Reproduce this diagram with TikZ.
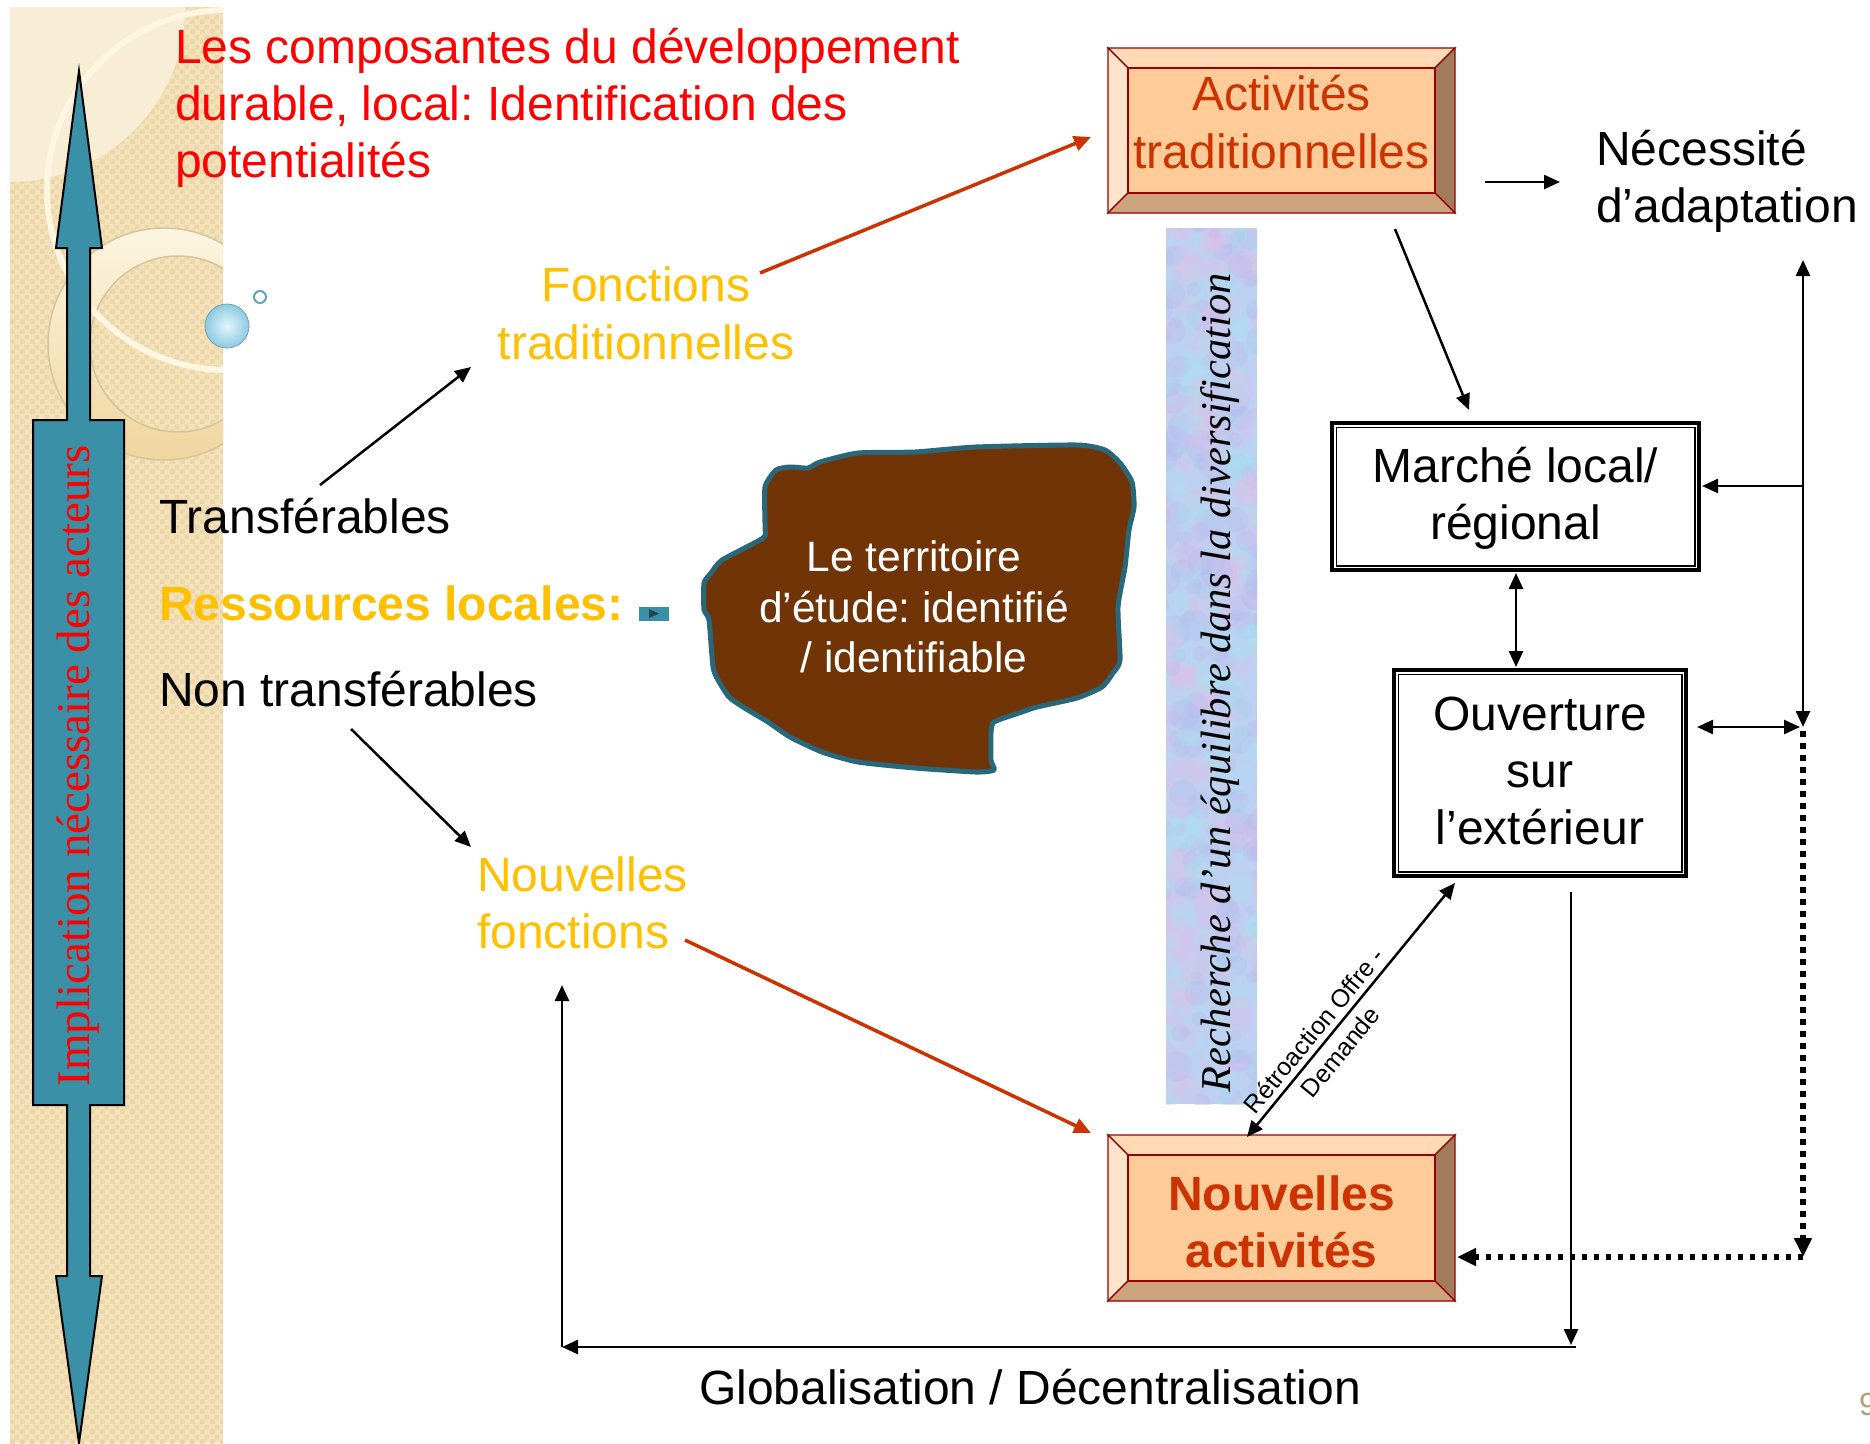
\documentclass[tikz,border=0pt]{standalone}
\usepackage{fontspec}
\setmainfont{Liberation Sans}
\newfontfamily\serifrm{Liberation Serif}
\usetikzlibrary{arrows.meta,patterns.meta,calc}
\frenchspacing
\newcommand\myfs[2]{\fontsize{#1}{#2}\selectfont}
\definecolor{beige}{RGB}{244,226,186}
\definecolor{beigedk}{RGB}{236,214,168}
\definecolor{beigelt}{RGB}{248,238,214}
\definecolor{ringlt}{RGB}{252,245,226}
\definecolor{ringdk}{RGB}{240,214,158}
\definecolor{ringln}{RGB}{214,196,158}
\definecolor{arcln}{RGB}{253,246,224}
\definecolor{arrowteal}{RGB}{58,144,166}
\definecolor{titlered}{RGB}{255,0,0}
\definecolor{gold}{RGB}{255,192,0}
\definecolor{boxtx}{RGB}{204,51,0}
\definecolor{arrred}{RGB}{204,51,0}
\definecolor{bevc}{RGB}{255,204,153}
\definecolor{bevt}{RGB}{255,218,180}
\definecolor{bevl}{RGB}{255,228,204}
\definecolor{bevr}{RGB}{160,124,92}
\definecolor{bevb}{RGB}{204,163,122}
\definecolor{bevln}{RGB}{153,0,0}
\definecolor{blobfill}{RGB}{112,52,6}
\definecolor{blobln}{RGB}{40,104,122}
\definecolor{recbase}{RGB}{190,208,240}
\definecolor{rc0}{RGB}{165,228,240}
\definecolor{rc1}{RGB}{228,190,232}
\definecolor{rc2}{RGB}{180,186,238}
\definecolor{pgnum}{RGB}{180,160,120}
\definecolor{btntri}{RGB}{30,70,85}
\definecolor{ballin}{RGB}{228,246,252}
\definecolor{ballout}{RGB}{140,202,226}

\tikzdeclarepattern{
  name=chk,
  type=uncolored,
  bounding box={(0pt,0pt) and (10pt,10pt)},
  tile size={(10pt,10pt)},
  code={
    \fill (0pt,0pt) rectangle (5pt,5pt);
    \fill (5pt,5pt) rectangle (10pt,10pt);
  }
}

\newcommand\bevelbox[5]{%
  \node[inner sep=0pt, minimum width={(#4-#2)*1pt}, minimum height={(#5-#3)*1pt}] (#1) at ({(#2+#4)/2},{(#3+#5)/2}) {};
  \filldraw[bevstyle, fill=bevt] (#2,#3) -- (#4,#3) -- (#4-20,#3+20) -- (#2+20,#3+20) -- cycle;
  \filldraw[bevstyle, fill=bevl] (#2,#3) -- (#2+20,#3+20) -- (#2+20,#5-20) -- (#2,#5) -- cycle;
  \filldraw[bevstyle, fill=bevr] (#4,#3) -- (#4,#5) -- (#4-20,#5-20) -- (#4-20,#3+20) -- cycle;
  \filldraw[bevstyle, fill=bevb] (#2,#5) -- (#2+20,#5-20) -- (#4-20,#5-20) -- (#4,#5) -- cycle;
  \filldraw[bevstyle, fill=bevc] (#2+20,#3+20) rectangle (#4-20,#5-20);
}

\tikzset{
  bevstyle/.style={draw=bevln, line width=1.3pt, line join=miter},
  tipA/.tip={Triangle[length=16pt,width=14pt]},
  conn/.style={line width=2.5pt, -tipA},
  conn2/.style={line width=2.5pt, tipA-tipA},
  redarr/.style={line width=3.5pt, draw=arrred, -{Triangle[length=17pt,width=15pt]}},
  dotarr/.style={line width=5.5pt, dash pattern=on 5.5pt off 6.5pt, -{Triangle[length=19pt,width=17pt]}},
  txt/.style={inner sep=0pt, font=\myfs{48}{57}},
  titletx/.style={txt, text=titlered},
  goldtx/.style={txt, text=gold},
  boxtext/.style={txt, text=boxtx},
  dblbox/.style={draw, line width=3.5pt, inner sep=0pt},
}

\begin{document}
\begin{tikzpicture}[x=1pt,y=-1pt]
\useasboundingbox (0,0) rectangle (1870,1443);
\fill[white] (0,0) rectangle (1870,1443);

% ---- left decorative strip
\begin{scope}
  \clip (10,7) rectangle (223,1443);
  \fill[beige] (10,7) rectangle (223,1443);
  \fill[pattern=chk, pattern color=beigedk] (10,7) rectangle (223,1443);
  \fill[beigelt] (10,7) circle[radius=175];
  \shade[even odd rule, top color=ringlt, bottom color=ringdk] (164,344) circle[radius=116] (178,344) circle[radius=88];
  \draw[ringln, line width=1.5pt] (164,344) circle[radius=116];
  \draw[ringln, line width=1.5pt] (178,344) circle[radius=88];
  \draw[arcln, line width=6pt] (227,190) circle[radius=180];
\end{scope}
\shade[inner color=ballin, outer color=ballout] (227,326) circle[radius=22];
\draw[ballout!80!black, line width=0.8pt] (227,326) circle[radius=22];
\draw[arrowteal!80!white, line width=2pt] (260,297) circle[radius=6];

% ---- blue double arrow
\filldraw[fill=arrowteal, draw=black, line width=2pt, line join=miter]
  (79,71) -- (102,248) -- (90,248) -- (90,420) -- (124,420) -- (124,1105) -- (90,1105) -- (90,1276)
  -- (102,1276) -- (79,1443) -- (56,1276) -- (67,1276) -- (67,1105) -- (33,1105) -- (33,420)
  -- (67,420) -- (67,248) -- (56,248) -- cycle;
\node[rotate=90, anchor=base, inner sep=0pt, text=titlered, font=\serifrm\myfs{47}{56}] (impl) at (89,766) {Implication nécessaire des acteurs};

% ---- title
\node[titletx, anchor=base west] (t1) at (175,63) {Les composantes du développement};
\node[titletx, anchor=base west] (t2) at (175,120) {durable, local: Identification des};
\node[titletx, anchor=base west] (t3) at (175,177) {potentialités};

% ---- left texts
\node[goldtx, anchor=base] (ft1) at (646,301) {Fonctions};
\node[goldtx, anchor=base] (ft2) at (646,359) {traditionnelles};
\node[txt, anchor=base west] (tr) at (159,533) {Transférables};
\node[txt, anchor=base west, text=gold, font=\bfseries\myfs{48}{57}] (res) at (159,620) {Ressources locales:};
\node[txt, anchor=base west] (ntr) at (159,706) {Non transférables};
\node[goldtx, anchor=base west] (nf1) at (477,891) {Nouvelles};
\node[goldtx, anchor=base west] (nf2) at (477,948) {fonctions};

% small button
\node[fill=arrowteal, inner sep=0pt, minimum width=30pt, minimum height=14pt] (btn) at (653.5,613.5) {};
\fill[btntri] (649,609) -- (659,613.5) -- (649,618) -- cycle;

% ---- territory blob
\filldraw[fill=blobfill, draw=blobln, line width=5pt, line join=round]
  plot[smooth cycle, tension=0.35] coordinates {
  (765,487) (776,470) (790,467) (808,468) (820,462) (858,453) (915,452) (976,447)
  (1077,445) (1105,450) (1120,463) (1132,482) (1134,507) (1129,530) (1125,567)
  (1118,607) (1120,660) (1113,673) (1102,687) (1077,698) (1037,707) (1019,713)
  (994,722) (991,733) (991,760) (994,770) (976,772) (915,768) (858,762) (822,752)
  (790,737) (768,722) (743,707) (729,697) (718,680) (713,667) (709,620) (704,610)
  (704,583) (711,573) (722,560) (763,538) (765,527)};
\node[txt, anchor=base, text=white, font=\myfs{42.5}{51}] (ter1) at (914,571) {Le territoire};
\node[txt, anchor=base, text=white, font=\myfs{42.5}{51}] (ter2) at (914,622) {d’étude: identifié};
\node[txt, anchor=base, text=white, font=\myfs{42.5}{51}] (ter3) at (914,672) {/ identifiable};

% ---- vertical textured strip
\begin{scope}
  \clip (1166,228) rectangle (1257,1104);
  \fill[recbase] (1166,228) rectangle (1257,1104);
  \pgfmathsetseed{11}
  \foreach \i in {1,...,520}{
    \pgfmathsetmacro{\rx}{1156+110*rnd}
    \pgfmathsetmacro{\ry}{218+896*rnd}
    \pgfmathsetmacro{\rr}{5+11*rnd}
    \pgfmathtruncatemacro{\rc}{mod(\i,3)}
    \fill[rc\rc, opacity=0.28] (\rx,\ry) circle[radius=\rr];
  }
\end{scope}
\node[rotate=90, anchor=base, inner sep=0pt, font=\serifrm\itshape\myfs{42.5}{50}] (rech) at (1230,683) {Recherche d’un équilibre dans la diversification};

% ---- bevel boxes
\bevelbox{act}{1108}{48}{1455}{213}
\node[boxtext, anchor=base] (act1) at (1281.5,110) {Activités};
\node[boxtext, anchor=base] (act2) at (1281.5,168) {traditionnelles};
\bevelbox{nact}{1108}{1135}{1455}{1301}
\node[boxtext, anchor=base, font=\bfseries\myfs{48}{57}] (nact1) at (1281.5,1210) {Nouvelles};
\node[boxtext, anchor=base, font=\bfseries\myfs{48}{57}] (nact2) at (1281.5,1267) {activités};

% ---- right texts
\node[txt, anchor=base west] (nec1) at (1596,165) {Nécessité};
\node[txt, anchor=base west] (nec2) at (1596,222) {d’adaptation};

% ---- double-bordered boxes
\node[dblbox, minimum width=367pt, minimum height=147pt] (mar) at (1515.5,496.5) {};
\draw[line width=1.5pt] ($(mar.north west)+(6,6)$) rectangle ($(mar.south east)+(-6,-6)$);
\node[txt, anchor=base] (mar1) at (1515.5,482) {Marché local/};
\node[txt, anchor=base] (mar2) at (1515.5,539) {régional};

\node[dblbox, minimum width=292pt, minimum height=206pt] (ouv) at (1540,773) {};
\draw[line width=1.5pt] ($(ouv.north west)+(6,6)$) rectangle ($(ouv.south east)+(-6,-6)$);
\node[txt, anchor=base] (ouv1) at (1540,730) {Ouverture};
\node[txt, anchor=base] (ouv2) at (1540,787) {sur};
\node[txt, anchor=base] (ouv3) at (1540,844) {l’extérieur};

% ---- bottom text
\node[txt, anchor=base] (glob) at (1030,1404) {Globalisation / Décentralisation};
\node[anchor=base west, inner sep=0pt, text=pgnum, font=\myfs{32}{38}] (pg) at (1859,1415) {9};

% ---- connector end points
\coordinate (trS) at (320,485);   \coordinate (ftE) at (471,367);
\coordinate (ntrS) at (351,729);  \coordinate (nfE) at (471,847);
\coordinate (ftS) at (760,273);   \coordinate (actW) at (1091,137);
\coordinate (nfS) at (685,940);   \coordinate (nactW) at (1091,1133);
\coordinate (actE) at (1485,182); \coordinate (necW) at (1560,182);
\coordinate (actS) at (1395,229); \coordinate (marN) at (1469,410);
\coordinate (rTop) at (1803,260); \coordinate (rMid) at (1803,727);
\coordinate (rMar) at (1803,486); \coordinate (marE) at (1702,486);
\coordinate (marS) at (1516,573); \coordinate (ouvN) at (1516,667);
\coordinate (ouvE) at (1697,727); \coordinate (rMid2) at (1800,727);
\coordinate (rDot) at (1803,731); \coordinate (rCorner) at (1803,1257);
\coordinate (nactE) at (1457,1257);
\coordinate (ouvSW) at (1455,883); \coordinate (nactN) at (1247,1137);
\coordinate (ouvS) at (1571,892); \coordinate (botR) at (1571,1345);
\coordinate (botR2) at (1576,1347); \coordinate (botL) at (562,1347);
\coordinate (leftTop) at (562,985);

% ---- connectors
\draw[conn] (trS) -- (ftE);
\draw[conn] (ntrS) -- (nfE);
\draw[redarr] (ftS) -- (actW);
\draw[redarr] (nfS) -- (nactW);
\draw[conn] (actE) -- (necW);
\draw[conn] (actS) -- (marN);
\draw[conn2] (rMid) -- (rTop);
\draw[conn] (rMar) -- (marE);
\draw[conn2] (marS) -- (ouvN);
\draw[conn2] (ouvE) -- (rMid2);
\draw[dotarr] (rDot) -- (rCorner);
\draw[dotarr] (rCorner) -- (nactE);
\draw[conn2] (ouvSW) -- (nactN);
\node[rotate=50.7, align=center, inner sep=0pt, font=\myfs{25}{34}] (retro) at (1327,1041) {Rétroaction Offre -\\Demande};
\draw[conn] (ouvS) -- (botR);
\draw[conn] (botR2) -- (botL);
\draw[conn] (botL) -- (leftTop);
\end{tikzpicture}
\end{document}
